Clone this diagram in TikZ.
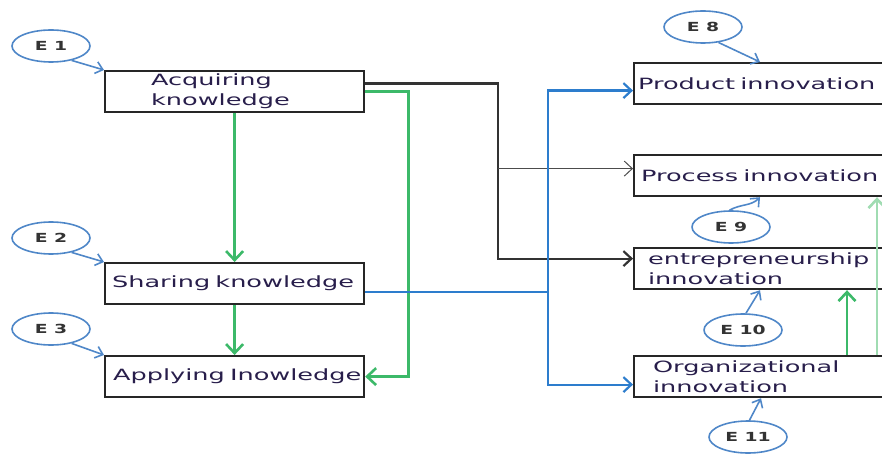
\documentclass[tikz,border=0pt]{standalone}
\usepackage{fontspec}
\usetikzlibrary{arrows.meta, shapes.geometric, calc}
\newfontfamily\boxfont[FakeStretch=1.65]{DejaVu Sans}
\newfontfamily\ovalfont[FakeStretch=1.5]{DejaVu Sans}
\definecolor{eblue}{RGB}{79,135,200}
\definecolor{lblue}{RGB}{45,125,205}
\definecolor{kgreen}{RGB}{60,185,105}
\definecolor{pgreen}{RGB}{160,220,178}
\definecolor{ink}{RGB}{40,30,75}
\tikzset{
    box/.style = {rectangle, draw=black!85, line width=2.2pt, anchor=north west, minimum height=41pt, inner ysep=0pt, align=left, text=ink, font=\boxfont\fontsize{15.5}{20}\selectfont},
    oval/.style = {ellipse, draw=eblue, line width=1.6pt, minimum width=78pt, minimum height=32pt, inner sep=0pt, text=black!80, font=\ovalfont\bfseries\fontsize{12.5}{13}\selectfont},
    link/.style = {eblue, line width=1.6pt, -{Straight Barb[length=7pt,width=12pt]}},
    garrow/.style = {kgreen, line width=2.6pt, -{Straight Barb[length=9pt,width=17pt]}},
    barrow/.style = {lblue, line width=2.2pt, -{Straight Barb[length=8pt,width=15pt]}},
    karrow/.style = {black!80, line width=2.2pt, -{Straight Barb[length=8pt,width=15pt]}}
}

\begin{document}
\begin{tikzpicture}[x=1pt, y=-1pt]
        \useasboundingbox (0,0) rectangle (882,454);
        \clip (0,0) rectangle (882,454);

        % Nodes
        \node [box, inner xsep=46pt, text width=167pt] (acq) at (104,70) {Acquiring\\knowledge};
        \node [box, inner xsep=7pt, text width=245pt] (share) at (104,262) {\mbox{Sharing knowledge}};
        \node [box, inner xsep=8pt, text width=243pt] (appl) at (104,355) {\mbox{Applying Inowledge}};
        \node [box, inner xsep=4pt, text width=292pt] (prod) at (633,62) {\mbox{Product innovation}};
        \node [box, inner xsep=7pt, text width=286pt] (proc) at (633,154) {\mbox{Process innovation}};
        \node [box, inner xsep=14pt, text width=272pt] (entr) at (633,247) {entrepreneurship\\innovation};
        \node [box, inner xsep=19pt, text width=262pt] (org) at (633,355) {Organizational\\innovation};

        \node [oval] (e1) at (51,46) {E 1};
        \node [oval] (e2) at (51,238) {E 2};
        \node [oval] (e3) at (51,329) {E 3};
        \node [oval] (e8) at (703,27) {E 8};
        \node [oval] (e9) at (731,227) {E 9};
        \node [oval] (e10) at (743,330) {E 10};
        \node [oval] (e11) at (748,437) {E 11};

        % Edges
        \draw [link] (e1.-35) -- (acq.north west);
        \draw [link] (e2.-35) -- (share.north west);
        \draw [link] (e3.-35) -- (appl.north west);
        \draw [link] (e8.-45) -- ($(prod.north west)+(127,0)$);
        \draw [link] (e9.95) to[out=30,in=-135] ($(proc.south west)+(127,0)$);
        \draw [link] (e10.80) -- ($(entr.south west)+(127,0)$);
        \draw [link] (e11.85) -- ($(org.south west)+(128,0)$);

        \draw [garrow] (acq.south) -- (share.north);
        \draw [garrow] (share.south) -- (appl.north);
        \draw [garrow] (acq.east) -- ++(43,0) |- (appl.east);
        \draw [garrow] ($(org.north west)+(214,0)$) -- ($(entr.south west)+(214,0)$);
        \draw [garrow, pgreen] ($(org.north west)+(244,0)$) -- ($(proc.south west)+(244,0)$);

        \draw [karrow] ($(acq.east)+(0,-8)$) -| ($(entr.west)+(-135,-10)$) -- ($(entr.west)+(0,-10)$);
        \draw [black!70, line width=1pt, -{Straight Barb[length=8pt,width=15pt]}] ($(proc.west)+(-135,-7)$) -- ($(proc.west)+(0,-7)$);

        \coordinate (bsplit) at ($(share.east)+(183,8)$);
        \draw [lblue, line width=2.2pt] ($(share.east)+(0,8)$) -- (bsplit);
        \draw [barrow] (bsplit) |- ($(prod.west)+(0,7)$);
        \draw [barrow] (bsplit) |- ($(org.west)+(0,8)$);

    \end{tikzpicture}
\end{document}
